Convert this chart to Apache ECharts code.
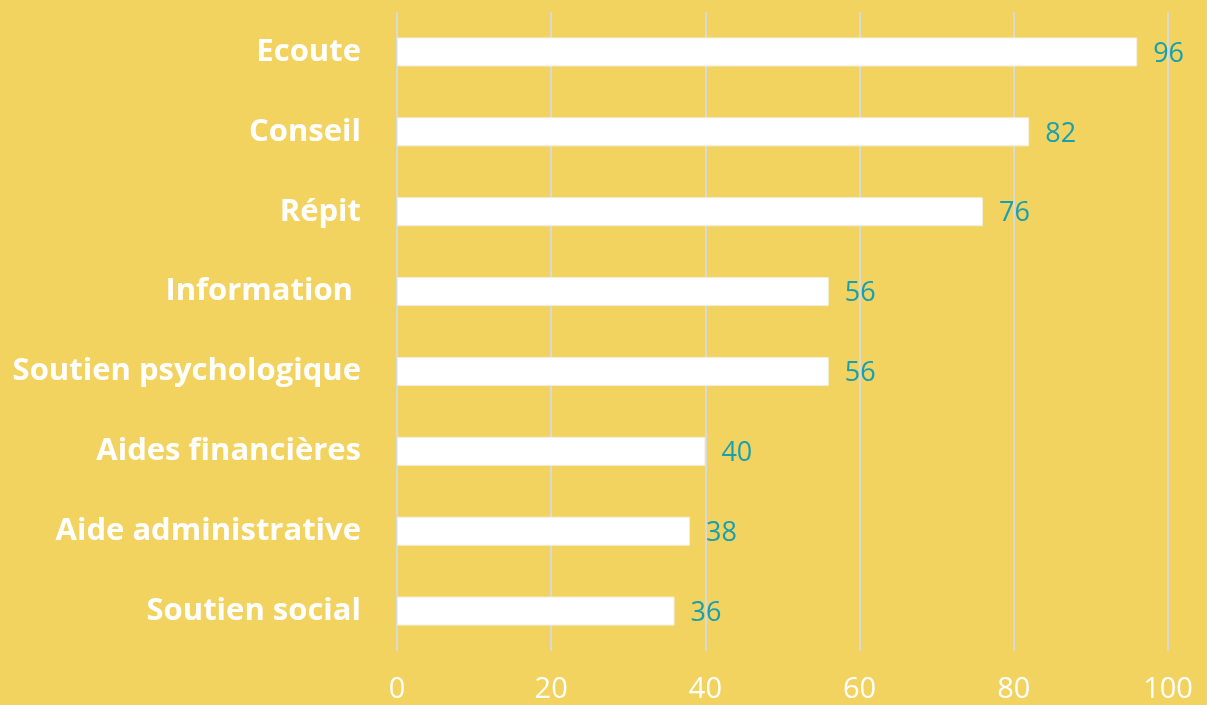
<!DOCTYPE html>
<html>
<head>
<meta charset="utf-8">
<script src="https://cdn.jsdelivr.net/npm/echarts@6/dist/echarts.min.js"></script>
<style>
  html, body { margin: 0; padding: 0; background: #F3D35F; }
  #chart { width: 1207px; height: 705px; }
</style>
</head>
<body>
<div id="chart"></div>
<script>
// categories listed bottom to top (category axis on y starts at the bottom)
const categories = ['Soutien social', 'Aide administrative', 'Aides financières', 'Soutien psychologique', 'Information ', 'Répit', 'Conseil', 'Ecoute'];
const values = [36, 38, 40, 56, 56, 76, 82, 96];
const xTicks = [0, 20, 40, 60, 80, 100];

const myChart = echarts.init(document.getElementById('chart'));

const option = {
  backgroundColor: '#F3D35F',
  animation: false,
  grid: { left: 397, right: 39, top: 12, bottom: 54 },
  xAxis: {
    type: 'value',
    min: xTicks[0],
    max: xTicks[xTicks.length - 1],
    interval: 20,
    axisLine: { show: false },
    axisTick: { show: false },
    splitLine: { show: true, lineStyle: { color: '#D9D9D9', width: 2 } },
    axisLabel: {
      color: '#FFFFFF',
      fontFamily: 'Open Sans',
      fontSize: 29,
      margin: 24
    }
  },
  yAxis: {
    type: 'category',
    data: categories,
    axisLine: { show: false },
    axisTick: { show: false },
    axisLabel: {
      color: '#FFFFFF',
      fontFamily: 'Open Sans',
      fontWeight: 'bold',
      fontSize: 31,
      margin: 36
    }
  },
  series: [
    {
      type: 'bar',
      data: values,
      barWidth: 29,
      itemStyle: { color: '#FFFFFF', borderColor: '#F2EEDD', borderWidth: 1 },
      label: {
        show: true,
        position: 'right',
        distance: 16,
        offset: [0, 2],
        color: '#17A0B0',
        fontFamily: 'Open Sans',
        fontSize: 27
      }
    }
  ]
};

myChart.setOption(option);
</script>
</body>
</html>
